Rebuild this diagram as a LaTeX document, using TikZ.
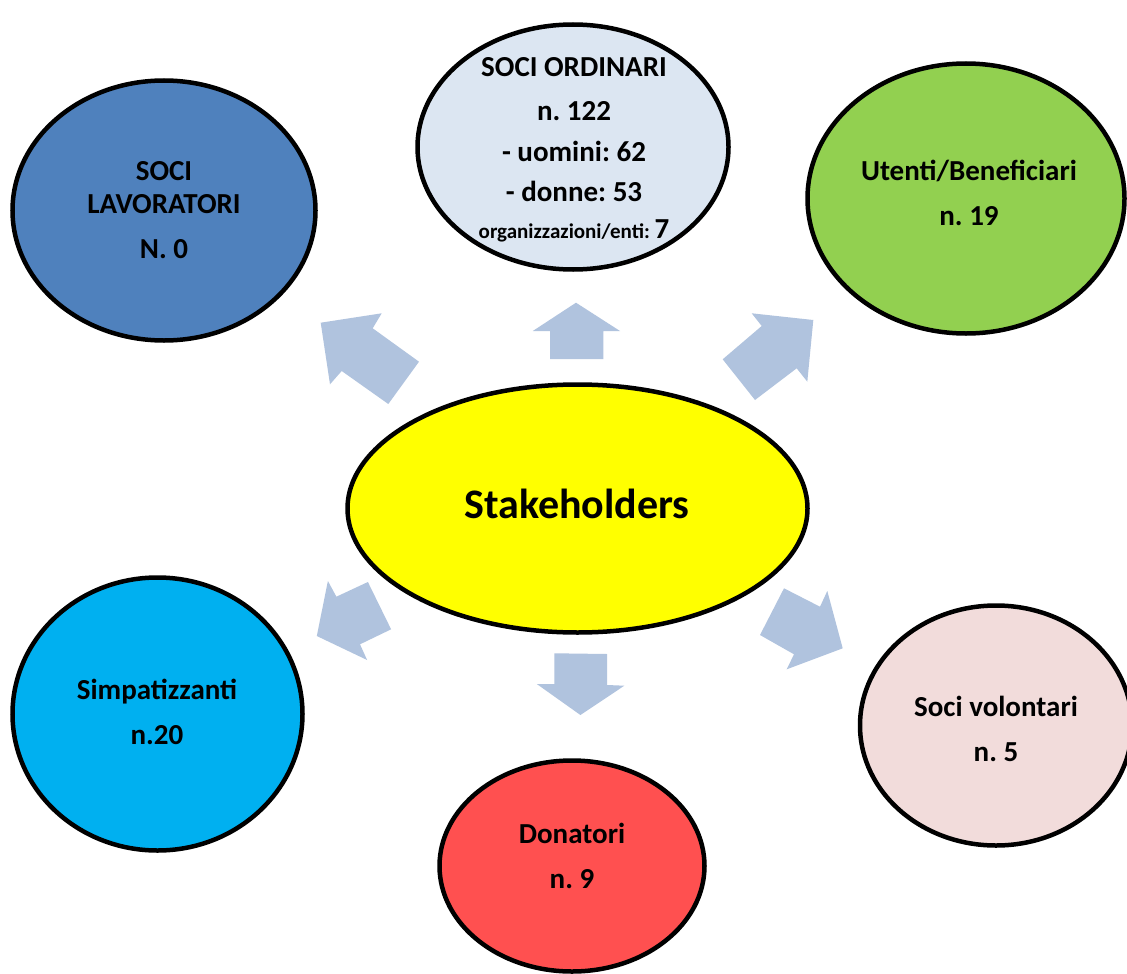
\documentclass[tikz,border=0pt]{standalone}
\usepackage{fontspec}
\setmainfont{Carlito}
\usetikzlibrary{shapes.geometric}
\definecolor{arrowblue}{HTML}{B0C3DE}
\definecolor{lavblue}{HTML}{4F81BD}
\definecolor{ordblue}{HTML}{DCE6F2}
\definecolor{utgreen}{HTML}{92D050}
\definecolor{simcyan}{HTML}{00B0F0}
\definecolor{donred}{HTML}{FF5050}
\definecolor{volpink}{HTML}{F2DCDB}
\definecolor{centeryellow}{HTML}{FFFF00}
\frenchspacing
\begin{document}
\begin{tikzpicture}[x=1pt,y=-1pt,
  ell/.style={ellipse, draw=black, line width=4.5pt, inner sep=0pt},
  lbl/.style={anchor=base, inner sep=0pt, font=\fontsize{29}{34}\selectfont\bfseries},
  blk/.style={fill=arrowblue, draw=none}]
\useasboundingbox (0,0) rectangle (1127,974);
\fill[white] (0,0) rectangle (1127,974);
\clip (0,0) rectangle (1127,974);

% ellipses
\node[ell, fill=lavblue, minimum width=303pt, minimum height=260pt] (lav) at (164,210.5) {};
\node[ell, fill=ordblue, minimum width=311pt, minimum height=245pt] (ord) at (573,147) {};
\node[ell, fill=utgreen, minimum width=317pt, minimum height=270pt] (ut) at (966,198.5) {};
\node[ell, fill=centeryellow, minimum width=460pt, minimum height=248pt] (stk) at (577.5,508.5) {};
\node[ell, fill=simcyan, minimum width=290pt, minimum height=273pt] (sim) at (157.5,714) {};
\node[ell, fill=donred, minimum width=265pt, minimum height=211pt] (don) at (572,866) {};
\node[ell, fill=volpink, minimum width=272pt, minimum height=240pt] (vol) at (996,725.5) {};

% block arrows
\path[blk] (320.7,322.7) -- (381.7,313.3) -- (372.7,328.3) -- (419,361.7) -- (388.3,404) -- (341.7,371) -- (330,384.3) -- cycle;
\path[blk] (576,302.7) -- (620,331) -- (603.4,331) -- (603.4,359) -- (550,359) -- (550,331) -- (532.8,331) -- cycle;
\path[blk] (751.7,313.3) -- (813.3,320) -- (807.3,381.7) -- (796.7,368.3) -- (755,400) -- (722.7,359.3) -- (761.7,326) -- cycle;
\path[blk] (327.9,581) -- (336.4,596.7) -- (367.9,582) -- (391.1,629.3) -- (360,644.3) -- (367.1,660) -- (316.8,636) -- cycle;
\path[blk] (554.3,653.3) -- (607.1,654) -- (607.1,685) -- (624.3,685.7) -- (580.4,715) -- (536.8,684) -- (554.3,684) -- cycle;
\path[blk] (784,588.3) -- (820,606.7) -- (827.3,591) -- (842.7,648.3) -- (786.7,669.3) -- (794,654.3) -- (760,635) -- cycle;

% texts
\node[lbl] (lav1) at (164,180) {SOCI};
\node[lbl] (lav2) at (164,213.5) {LAVORATORI};
\node[lbl] (lav3) at (164,258.3) {N. 0};

\node[lbl] (ord1) at (574,76.7) {SOCI ORDINARI};
\node[lbl] (ord2) at (574,120) {n. 122};
\node[lbl] (ord3) at (574,161.7) {- uomini: 62};
\node[lbl] (ord4) at (574,201.7) {- donne: 53};
\node[lbl] (ord5) at (574,238) {{\fontsize{21}{25}\selectfont organizzazioni/enti: }7};

\node[lbl] (ut1) at (969,180.7) {Utenti/Beneficiari};
\node[lbl] (ut2) at (969,225) {n. 19};

\node[lbl, font=\fontsize{42}{48}\selectfont\bfseries] (stk1) at (577,518.5) {Stakeholders};

\node[lbl] (sim1) at (157,699.3) {Simpatizzanti};
\node[lbl] (sim2) at (157,744.3) {n.20};

\node[lbl] (don1) at (572,843.3) {Donatori};
\node[lbl] (don2) at (572,888.3) {n. 9};

\node[lbl] (vol1) at (996,716) {Soci volontari};
\node[lbl] (vol2) at (996,761.7) {n. 5};
\end{tikzpicture}
\end{document}
